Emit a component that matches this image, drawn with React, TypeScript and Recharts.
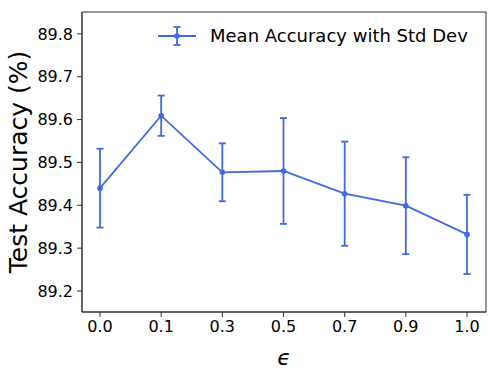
import { LineChart, Line, XAxis, YAxis, ErrorBar, Legend, Label, CartesianGrid } from "recharts";

// epsilon values on the x axis
const epsLabels = ["0.0", "0.1", "0.3", "0.5", "0.7", "0.9", "1.0"];
const meanAcc = [89.44, 89.609, 89.477, 89.48, 89.427, 89.399, 89.332];
const stdAcc = [0.092, 0.047, 0.0675, 0.1235, 0.1215, 0.113, 0.0925];
const yTicks = [89.2, 89.3, 89.4, 89.5, 89.6, 89.7, 89.8];

const BLUE = "#4169E1";
const FONT = "DejaVu Sans";

const chartData = epsLabels.map((eps, i) => ({
  eps,
  mean: meanAcc[i],
  std: stdAcc[i],
}));

function LegendContent() {
  return (
    <div style={{ display: "flex", alignItems: "center", fontFamily: FONT, fontSize: 18, color: "#000" }}>
      <svg width={38} height={20}>
        <line x1={0} y1={10} x2={38} y2={10} stroke={BLUE} strokeWidth={1.8} />
        <line x1={19} y1={1} x2={19} y2={19} stroke={BLUE} strokeWidth={1.8} />
        <line x1={15.5} y1={1} x2={22.5} y2={1} stroke={BLUE} strokeWidth={1.8} />
        <line x1={15.5} y1={19} x2={22.5} y2={19} stroke={BLUE} strokeWidth={1.8} />
        <circle cx={19} cy={10} r={2.8} fill={BLUE} />
      </svg>
      <span style={{ marginLeft: 14 }}>Mean Accuracy with Std Dev</span>
    </div>
  );
}

export default function App() {
  const tickStyle = { fontSize: 16, fill: "#000", fontFamily: FONT };
  return (
    <div style={{ position: "absolute", left: 0, top: 0 }}>
      <LineChart
        width={498}
        height={377}
        data={chartData}
        margin={{ top: 12, right: 12, bottom: 0, left: 0 }}
      >
        {/* full box around the plot, like matplotlib spines */}
        <CartesianGrid
          stroke="#333"
          strokeWidth={1}
          horizontalCoordinatesGenerator={({ offset }: any) => [offset.top, offset.top + offset.height]}
          verticalCoordinatesGenerator={({ offset }: any) => [offset.left, offset.left + offset.width]}
        />
        <XAxis
          dataKey="eps"
          height={65}
          padding={{ left: 18, right: 19 }}
          tick={tickStyle}
          tickSize={5}
          tickMargin={4}
          stroke="#333"
        >
          <Label
            value="ϵ"
            position="insideBottom"
            offset={12}
            style={{ fontSize: 22, fontFamily: FONT, fontStyle: "italic", fill: "#000" }}
          />
        </XAxis>
        <YAxis
          width={82}
          domain={[89.151, 89.851]}
          ticks={yTicks}
          allowDataOverflow
          tickFormatter={(v: number) => v.toFixed(1)}
          tick={tickStyle}
          tickSize={5}
          tickMargin={4}
          stroke="#333"
        >
          <Label
            value="Test Accuracy (%)"
            angle={-90}
            position="insideLeft"
            offset={18}
            style={{ fontSize: 25, fontFamily: FONT, fill: "#000", textAnchor: "middle" }}
          />
        </YAxis>
        <Legend
          layout="horizontal"
          verticalAlign="middle"
          align="center"
          content={() => <LegendContent />}
          wrapperStyle={{ left: 158, top: 25, width: "auto" }}
        />
        <Line
          type="linear"
          dataKey="mean"
          stroke={BLUE}
          strokeWidth={1.8}
          dot={{ r: 2.8, fill: BLUE, stroke: BLUE, strokeWidth: 0 }}
          activeDot={false}
          isAnimationActive={false}
        >
          <ErrorBar dataKey="std" direction="y" width={3.5} stroke={BLUE} strokeWidth={1.8} isAnimationActive={false} />
        </Line>
      </LineChart>
    </div>
  );
}
